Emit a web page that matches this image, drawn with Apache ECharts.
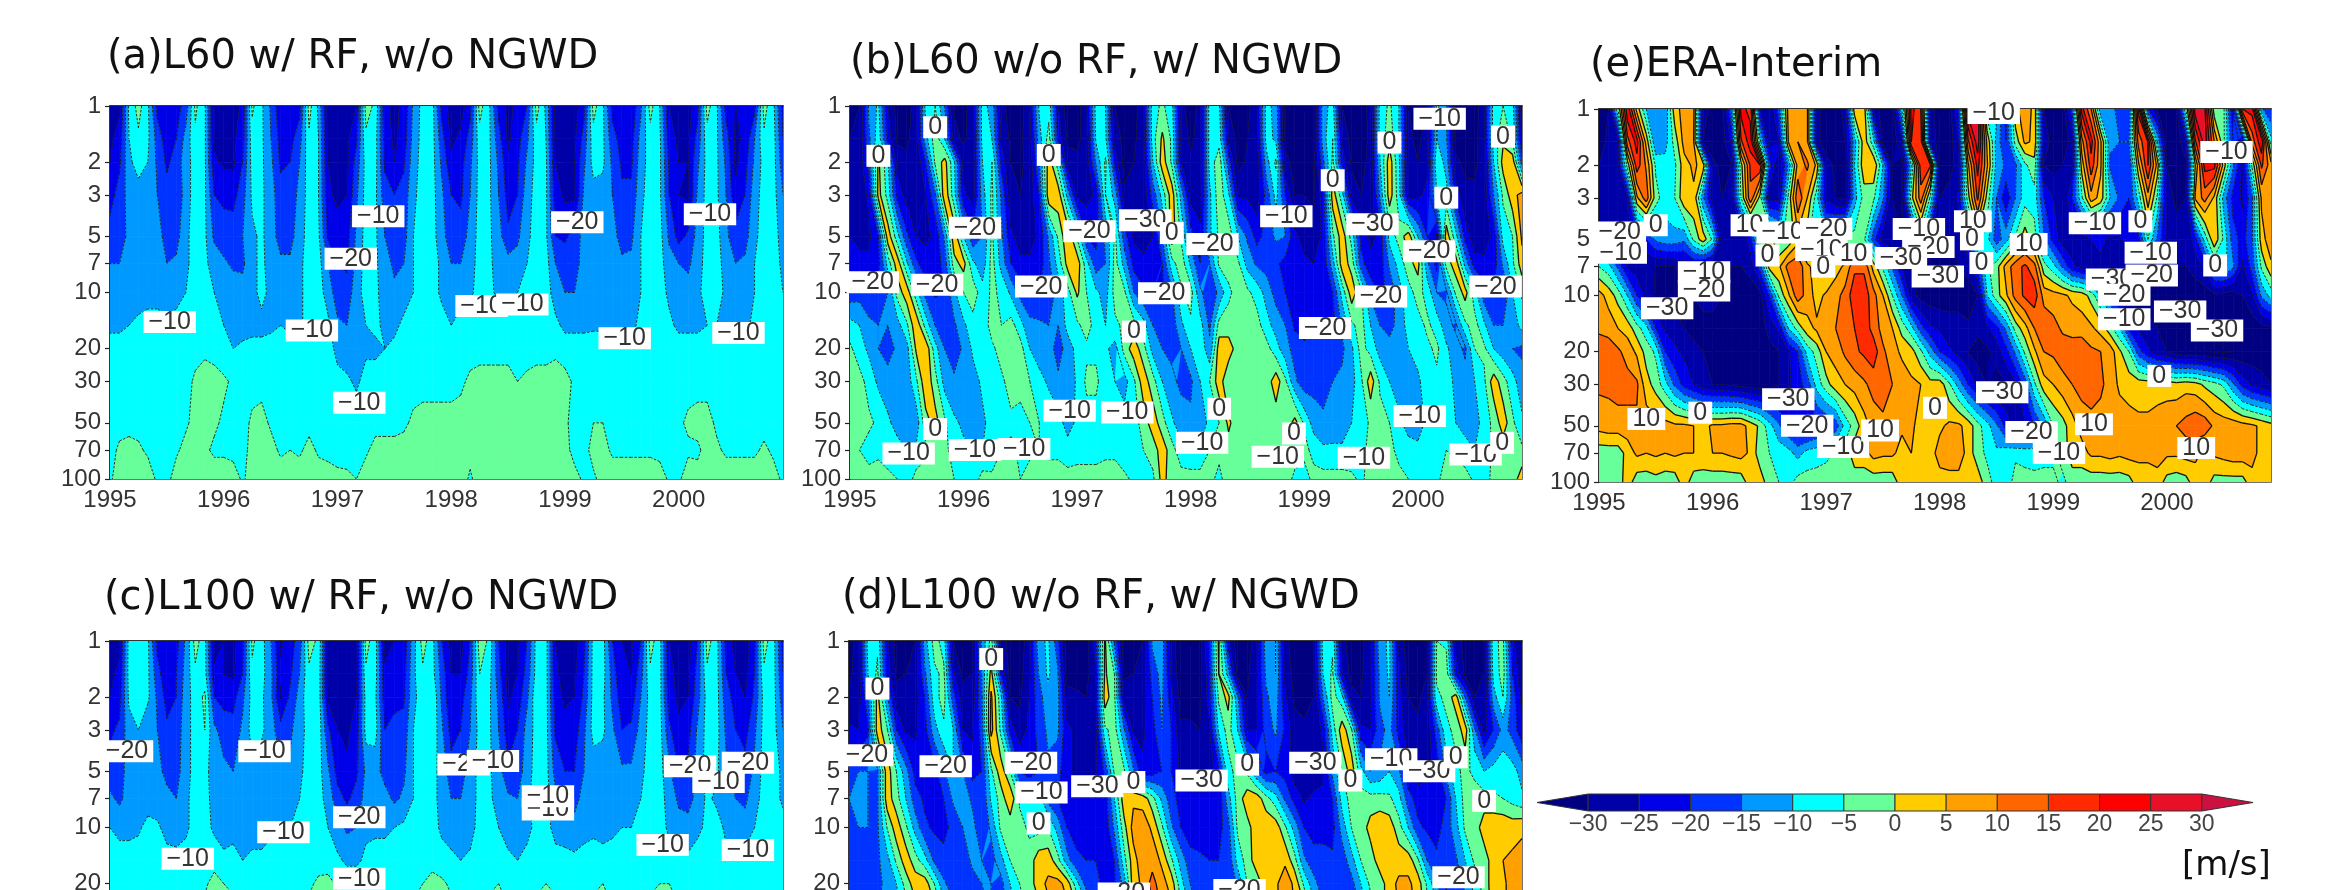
<!DOCTYPE html>
<html><head><meta charset="utf-8">
<style>html,body{margin:0;padding:0;background:#fff;overflow:hidden}#c{width:2331px;height:890px}</style>
<script src="https://cdn.jsdelivr.net/npm/echarts@6/dist/echarts.min.js"></script></head>
<body><div id="c"></div>
<script>
const pressures=[1,1.5,2,3,5,7,10,15,20,30,50,70,100];
const yearTicks=[1995,1996,1997,1998,1999,2000];
const pressureTicks=[1,2,3,5,7,10,20,30,50,70,100];
const colorLevels=[-35,-30,-25,-20,-15,-10,-5,0,5,10,15,20,25,30,35];
const bandColors=['#000080','#0000a8','#0000e8','#0033ff','#0099ff','#00ffff','#66ff99','#ffcc00','#ffa000','#ff6600','#ff2a00','#ff0000','#e81028','#cc1040'];
const panelTitles=['(a)L60 w/ RF, w/o NGWD','(b)L60 w/o RF, w/ NGWD','(c)L100 w/ RF, w/o NGWD','(d)L100 w/o RF, w/ NGWD','(e)ERA-Interim'];

const panelA=[
[-27,-26,-9,-3,-9,-22,-24,-22,-18,-4,-9,-27, -27,-27,-24,-4,-9,-16,-24,-24,-22,-3,-11,-27, -27,-27,-25,-3,-6,-24,-26,-24,-14,-8,-8,-22, -27,-27,-22,-3,-9,-22,-26,-24,-20,-3,-11,-27, -27,-27,-22,-3,-9,-22,-24,-24,-16,-3,-10,-25, -27,-27,-22,-3,-9,-22,-25,-25,-22,-3,-9,-22],
[-26,-23,-10,-6,-9,-17,-23,-20,-13,-6,-9,-26, -26,-26,-22,-7,-9,-15,-22,-22,-17,-6,-10,-26, -26,-26,-21,-6,-8,-22,-26,-23,-13,-8,-8,-18, -26,-24,-18,-7,-9,-18,-26,-22,-16,-7,-10,-26, -26,-26,-18,-7,-9,-18,-22,-22,-13,-7,-9,-23, -26,-26,-18,-7,-9,-18,-26,-24,-15,-6,-8,-20],
[-25,-21,-11,-8,-10,-16,-21,-18,-12,-8,-9,-24, -26,-26,-20,-8,-9,-14,-21,-20,-15,-7,-10,-25, -27,-26,-18,-8,-8,-21,-25,-21,-12,-8,-8,-16, -24,-22,-16,-8,-9,-16,-24,-21,-14,-8,-9,-25, -26,-25,-16,-8,-9,-16,-21,-21,-12,-8,-9,-21, -25,-25,-16,-8,-9,-16,-26,-22,-14,-8,-8,-18],
[-22,-18,-13,-12,-13,-15,-18,-20,-12,-8,-9,-20, -21,-22,-17,-9,-9,-13,-18,-19,-13,-8,-10,-24, -26,-25,-16,-8,-9,-18,-20,-18,-11,-8,-8,-14, -20,-21,-15,-8,-9,-15,-22,-20,-12,-8,-9,-23, -26,-26,-14,-12,-12,-15,-19,-19,-11,-8,-9,-20, -25,-26,-14,-8,-9,-15,-24,-20,-12,-8,-8,-15],
[-18,-17,-14,-15,-13,-13,-17,-17,-11,-8,-9,-16, -18,-17,-15,-11,-9,-13,-17,-17,-12,-8,-9,-21, -23,-22,-14,-8,-9,-15,-18,-17,-10,-8,-8,-13, -18,-18,-13,-8,-9,-13,-19,-16,-11,-8,-9,-20, -21,-18,-13,-12,-12,-13,-17,-16,-10,-8,-8,-16, -22,-19,-13,-8,-8,-14,-18,-17,-11,-8,-8,-12],
[-15,-15,-13,-14,-12,-12,-15,-14,-11,-8,-9,-12, -14,-16,-16,-11,-9,-12,-14,-14,-11,-8,-8,-15, -20,-21,-13,-8,-9,-13,-16,-15,-10,-8,-8,-11, -15,-15,-12,-8,-9,-12,-13,-13,-10,-8,-8,-15, -17,-18,-12,-11,-11,-12,-14,-14,-10,-8,-8,-13, -15,-16,-12,-8,-8,-12,-15,-14,-10,-8,-8,-11],
[-13,-13,-12,-12,-11,-11,-12,-12,-10,-8,-8,-10, -11,-12,-13,-11,-9,-11,-12,-12,-11,-8,-8,-12, -18,-18,-12,-8,-9,-12,-14,-12,-10,-8,-8,-11, -13,-13,-11,-8,-9,-11,-11,-10,-8,-8,-8,-12, -15,-15,-12,-11,-11,-11,-11,-11,-10,-8,-8,-11, -13,-13,-11,-8,-8,-11,-12,-12,-10,-8,-8,-10],
[-11,-11,-10,-9,-9,-9,-9,-8,-7,-7,-7,-9, -10,-11,-12,-11,-11,-11,-10,-11,-11,-8,-8,-9, -14,-15,-12,-10,-9,-11,-11,-9,-8,-8,-8,-8, -10,-7,-7,-7,-7,-7,-7,-7,-7,-7,-7,-9, -11,-11,-11,-11,-11,-11,-11,-11,-9,-8,-7,-9, -11,-11,-11,-10,-10,-11,-11,-11,-9,-8,-7,-7],
[-8,-8,-8,-8,-8,-7,-7,-7,-7,-7,-6,-7, -9,-10,-9,-9,-9,-8,-8,-8,-8,-7,-7,-7, -12,-13,-11,-11,-11,-10,-9,-7,-7,-7,-7,-7, -7,-7,-7,-7,-7,-7,-7,-7,-7,-7,-7,-6, -8,-8,-8,-7,-7,-7,-7,-7,-7,-7,-7,-7, -8,-8,-8,-7,-7,-8,-8,-7,-7,-7,-7,-7],
[-5,-7,-7,-7,-7,-7,-7,-7,-7,-4,-3,-3, -4,-6,-7,-7,-7,-7,-7,-7,-7,-7,-7,-7, -8,-9,-11,-8,-8,-8,-7,-7,-7,-7,-7,-7, -7,-6,-4,-3,-3,-3,-3,-5,-4,-3,-3,-3, -3,-6,-7,-7,-7,-7,-7,-7,-7,-7,-7,-7, -7,-7,-7,-7,-7,-7,-7,-7,-7,-7,-7,-7],
[-7,-7,-7,-7,-7,-7,-7,-7,-6,-3,-3,-4, -6,-7,-7,-4,-3,-6,-7,-7,-7,-7,-7,-7, -7,-7,-7,-7,-7,-7,-7,-6,-4,-3,-3,-3, -3,-3,-3,-3,-3,-3,-3,-3,-3,-3,-3,-3, -4,-7,-7,-5,-5,-7,-7,-7,-7,-7,-7,-7, -6,-4,-3,-3,-6,-7,-7,-7,-7,-7,-7,-7],
[-7,-4,-3,-4,-6,-7,-7,-6,-3,-3,-4,-6, -6,-7,-7,-3,-3,-3,-6,-5,-6,-3,-6,-7, -8,-7,-6,-6,-3,-3,-3,-3,-3,-3,-3,-3, -3,-3,-3,-3,-3,-3,-3,-3,-3,-3,-3,-3, -3,-7,-7,-3,-3,-6,-6,-6,-6,-6,-7,-7, -7,-6,-6,-3,-4,-6,-6,-6,-6,-4,-6,-7],
[-6,-2,-2,-2,-2,-6,-7,-2,-2,-2,-2,-2, -2,-2,-6,-2,-2,-2,-2,-2,-2,-2,-2,-2, -3,-4,-5,-2,-2,-2,-2,-2,-3,-2,-2,-2, -2,-2,-6,-2,-2,-2,-2,-2,-2,-2,-2,-2, -2,-3,-6,-6,-3,-2,-2,-2,-2,-2,-2,-6, -6,-2,-3,-2,-2,-2,-2,-2,-2,-2,-3,-6]
];
const panelB=[
[-32,-30,-14,-9,-25,-32,-32,-28,-8,-5,-15,-31, -33,-25,-8,-12,-28,-33,-33,-25,-9,-7,-25,-33, -33,-25,-8,-10,-30,-33,-33,-25,-7,-4,-8,-28, -33,-28,-8,-9,-30,-33,-32,-25,-8,-12,-32,-33, -33,-30,-12,-8,-30,-33,-33,-28,-8,-4,-10,-30, -33,-30,-9,-14,-32,-33,-33,-25,-8,-5,-8,-28],
[-30,-29,-16,-7,-22,-31,-31,-27,-12,-2,-10,-28, -31,-27,-8,-10,-26,-31,-31,-27,-12,-3,-22,-31, -31,-28,-9,-9,-27,-32,-31,-27,-7,1,-6,-27, -31,-28,-8,-7,-26,-32,-30,-26,-8,-11,-31,-32, -32,-30,-12,-5,-26,-32,-32,-29,-8,-2,-10,-29, -31,-28,-10,-14,-32,-33,-32,-26,-8,-1,-6,-26],
[-29,-28,-18,1,-9,-27,-29,-29,-20,-4,2,-9, -27,-27,-10,-5,-22,-30,-31,-28,-15,3,-8,-28, -29,-28,-14,-4,-22,-32,-30,-28,-10,3,-6,-25, -29,-28,-8,-2,-18,-32,-29,-28,-12,-4,-29,-31, -31,-31,-16,-4,-22,-31,-31,-29,-10,3,-9,-28, -30,-27,-6,-12,-29,-31,-31,-28,-10,2,3,-18],
[-28,-28,-24,2,-7,-22,-27,-28,-25,-16,4,-8, -24,-27,-12,-4,-16,-29,-30,-28,-20,4,3,-12, -26,-27,-24,-5,-12,-29,-29,-28,-18,-8,3,-12, -27,-27,-11,-2,-9,-26,-26,-28,-18,-8,-20,-30, -30,-31,-22,3,-8,-27,-30,-29,-14,3,-8,-27, -27,-23,-10,-8,-22,-29,-29,-28,-15,-4,3,7],
[-25,-26,-26,-20,3,-8,-19,-25,-26,-24,-14,4, -10,-19,-15,-4,-14,-24,-27,-27,-24,-14,-4,4, -6,-20,-22,-14,-4,-18,-26,-27,-25,-15,3,-6, -18,-24,-11,-4,-2,-10,-16,-22,-18,-14,-15,-24, -27,-28,-24,-6,3,-7,-22,-26,-24,-8,-3,3, -10,-20,-26,3,-8,-22,-28,-27,-24,-8,-5,6],
[-23,-24,-24,-22,-8,3,-9,-19,-23,-23,-18,-2, 2,-9,-13,-3,-12,-20,-24,-24,-23,-16,-8,2, 3,-8,-18,-15,-3,-12,-22,-24,-24,-20,-7,-2, -11,-20,-15,-4,-3,-4,-12,-16,-17,-19,-22,-24, -24,-25,-24,-12,3,-2,-18,-24,-23,-14,-8,-2, 2,-14,-22,-3,3,-12,-23,-24,-23,-14,-6,3],
[-18,-17,-18,-18,-15,-3,3,-8,-17,-21,-20,-11, -5,-2,-8,-4,-6,-11,-17,-18,-20,-18,-13,-7, 1,-5,-9,-12,-3,-4,-15,-19,-20,-21,-16,-6, -3,-14,-18,-14,-6,-3,-4,-7,-12,-17,-20,-22, -24,-24,-24,-20,-8,3,-4,-16,-21,-19,-12,-7, -3,-7,-15,-16,-4,2,-8,-18,-19,-20,-10,-4],
[-8,-10,-14,-15,-15,-12,-6,4,-7,-15,-19,-16, -11,-7,-8,-3,-5,-3,-8,-14,-14,-15,-15,-8, -6,-3,-7,-10,-6,-4,-3,-8,-15,-17,-18,-11, -6,-8,-16,-3,-3,-4,-3,-3,-8,-12,-15,-21, -22,-20,-21,-22,-14,-6,-3,-10,-15,-17,-13,-8, -7,-4,-7,-13,-16,-6,-3,-9,-15,-15,-13,-8],
[-4,-8,-11,-15,-17,-14,-12,1,4,-8,-15,-18, -14,-9,-8,-6,-3,-2,-3,-10,-13,-13,-17,-13, -8,-6,-6,-9,-12,-3,3,-3,-12,-15,-16,-15, -10,-6,-14,3,3,-3,-3,-3,-3,-8,-13,-17, -19,-19,-18,-18,-16,-11,-3,-7,-12,-13,-14,-10, -8,-6,-4,-9,-13,-16,-5,-4,-10,-13,-15,-16],
[-3,-3,-7,-11,-13,-14,-13,-6,4,-3,-12,-14, -15,-12,-9,-9,-6,-3,-4,-5,-8,-11,-14,-14, -9,-4,-4,-8,-10,-12,-6,3,-3,-10,-14,-16, -16,-10,-5,3,-5,-3,-3,-3,-3,3,-4,-14, -18,-17,-17,-15,-14,-12,-6,3,-6,-10,-12,-12, -11,-7,-6,-8,-11,-13,-10,-6,3,-3,-8,-13],
[-3,-3,-4,-6,-9,-12,-13,-13,-2,2,-4,-9, -11,-12,-11,-8,-8,-6,-6,-5,-5,-6,-8,-12, -9,-7,-7,-8,-9,-8,-7,-3,3,-3,-9,-13, -14,-14,-8,-5,1,-3,-3,-3,-3,-3,-4,2, -6,-12,-14,-13,-13,-10,-8,-4,-3,-5,-9,-12, -12,-9,-7,-8,-10,-12,-13,-7,-4,3,-4,-9],
[-3,-5,-7,-6,-7,-8,-10,-9,-6,-3,-3,-8, -9,-10,-10,-8,-5,-4,-6,-6,-5,-6,-6,-8, -7,-7,-7,-6,-6,-8,-7,-5,-3,3,-3,-8, -9,-9,-5,-4,-2,-3,-3,-3,-3,-3,-3,-3, -3,-7,-9,-9,-9,-8,-6,-4,-3,-4,-6,-8, -9,-8,-6,-5,-6,-8,-10,-8,-4,-3,-3,-4],
[-4,-3,-3,-3,-4,-5,-8,-3,-3,-3,-3,-5, -6,-8,-3,-4,-4,-5,-5,-3,-3,-3,-3,-3, -3,-3,-3,-3,-3,-4,-6,-8,-6,2,-3,-3, -3,-3,-4,-6,-3,-3,-3,-3,-3,-3,-3,-6, -8,-3,-3,-3,-3,-4,-6,-3,-3,-3,-4,-5, -6,-8,-6,-3,-3,-3,-6,-8,-3,-3,-3,3]
];
const panelC=[
[-27,-26,-8,-8,-9,-22,-25,-22,-14,-3,-8,-27, -25,-26,-22,-4,-8,-15,-26,-22,-18,-3,-6,-27, -28,-28,-27,-3,-8,-27,-25,-24,-12,-3,-8,-20, -27,-27,-20,-2,-6,-20,-27,-26,-20,-8,-8,-25, -27,-27,-22,-8,-8,-20,-25,-26,-20,-3,-8,-25, -27,-27,-20,-3,-8,-22,-27,-27,-22,-3,-8,-22],
[-26,-24,-8,-8,-9,-18,-24,-20,-13,-6,-8,-24, -25,-26,-20,-6,-8,-14,-24,-21,-15,-6,-7,-27, -27,-27,-26,-6,-8,-24,-22,-22,-11,-6,-8,-17, -25,-25,-18,-5,-8,-18,-27,-25,-18,-8,-8,-24, -27,-26,-20,-8,-8,-17,-25,-25,-17,-6,-8,-24, -26,-26,-18,-6,-8,-20,-25,-27,-20,-6,-8,-20],
[-25,-22,-9,-8,-9,-16,-22,-20,-12,-8,-4,-20, -22,-22,-16,-8,-9,-14,-26,-19,-13,-6,-7,-26, -26,-27,-25,-8,-9,-23,-21,-21,-11,-8,-5,-16, -25,-22,-16,-6,-9,-16,-26,-23,-16,-6,-8,-23, -26,-25,-19,-8,-9,-16,-23,-23,-15,-8,-8,-23, -26,-25,-17,-8,-8,-18,-22,-25,-19,-8,-8,-18],
[-21,-19,-12,-10,-14,-15,-19,-18,-12,-8,-5,-14, -17,-18,-14,-8,-9,-13,-18,-16,-12,-8,-7,-19, -25,-26,-23,-8,-8,-20,-19,-18,-10,-8,-6,-14, -22,-20,-15,-8,-9,-15,-23,-20,-13,-8,-8,-21, -23,-23,-16,-8,-9,-14,-20,-19,-13,-8,-8,-19, -24,-22,-14,-8,-8,-16,-20,-22,-16,-8,-8,-15],
[-18,-17,-13,-13,-14,-14,-16,-17,-12,-8,-8,-13, -14,-15,-13,-11,-13,-13,-14,-14,-11,-8,-8,-14, -22,-24,-21,-14,-13,-17,-17,-16,-10,-8,-8,-12, -18,-17,-13,-8,-9,-13,-19,-18,-12,-8,-8,-17, -20,-20,-15,-13,-13,-13,-14,-14,-11,-8,-8,-14, -20,-19,-13,-8,-9,-14,-18,-18,-14,-8,-8,-11],
[-14,-16,-13,-12,-13,-13,-14,-15,-11,-8,-8,-12, -12,-13,-14,-12,-12,-12,-12,-12,-10,-8,-8,-12, -18,-21,-18,-13,-13,-13,-16,-14,-10,-8,-8,-12, -15,-15,-13,-8,-9,-12,-14,-15,-11,-8,-8,-14, -15,-17,-13,-13,-13,-13,-12,-12,-10,-8,-8,-12, -16,-17,-13,-9,-11,-14,-15,-16,-12,-8,-8,-11],
[-10,-12,-12,-11,-8,-9,-12,-13,-11,-8,-8,-11, -12,-12,-13,-12,-12,-11,-10,-10,-10,-8,-8,-10, -13,-16,-15,-11,-11,-11,-10,-9,-8,-8,-8,-11, -12,-12,-12,-8,-7,-10,-12,-13,-12,-8,-8,-12, -13,-13,-12,-11,-11,-11,-10,-10,-9,-8,-8,-11, -13,-13,-11,-9,-8,-11,-13,-13,-10,-8,-8,-8],
[-8,-7,-7,-7,-7,-7,-8,-8,-8,-7,-6,-7, -9,-8,-10,-9,-9,-8,-8,-7,-8,-7,-7,-8, -9,-11,-11,-9,-8,-8,-7,-7,-7,-6,-7,-8, -9,-10,-9,-8,-8,-8,-9,-10,-8,-7,-7,-8, -8,-9,-8,-8,-9,-8,-8,-8,-7,-7,-7,-8, -9,-9,-8,-7,-8,-9,-8,-8,-7,-7,-7,-7],
[-6,-7,-6,-6,-7,-7,-7,-7,-7,-7,-6,-3, -5,-6,-7,-7,-7,-6,-7,-7,-7,-6,-4,-3, -6,-7,-7,-7,-7,-7,-7,-7,-7,-5,-3,-4, -6,-7,-7,-7,-6,-5,-7,-7,-7,-6,-5,-6, -7,-7,-7,-6,-5,-7,-7,-7,-7,-6,-5,-5, -7,-7,-7,-7,-7,-7,-7,-7,-7,-7,-7,-7],
[-3,-4,-3,-3,-4,-3,-4,-3,-3,-3,-3,-3, -3,-3,-4,-3,-4,-3,-3,-3,-3,-3,-3,-3, -3,-4,-4,-3,-4,-3,-3,-3,-3,-3,-3,-3, -3,-4,-3,-3,-3,-3,-4,-3,-3,-3,-3,-3, -3,-4,-3,-3,-3,-4,-4,-3,-3,-3,-3,-3, -4,-4,-4,-3,-4,-4,-4,-3,-3,-4,-4,-4]
];
const panelD=[
[-32,-28,-8,-6,-24,-32,-32,-30,-12,-3,-7,-30, -33,-30,-14,-3,-26,-33,-33,-27,-12,-9,-18,-33, -33,-33,-22,1,-16,-33,-32,-30,-14,-12,-28,-33, -33,-32,-20,1,-24,-33,-32,-28,-12,-10,-28,-33, -33,-30,-8,-6,-28,-33,-32,-26,-12,-9,-26,-33, -33,-30,-5,-6,-27,-32,-33,-30,-6,-4,-24,-30],
[-31,-28,-10,-4,-22,-31,-30,-28,-16,-6,-4,-24, -31,-30,-15,2,-20,-32,-32,-26,-15,-9,-14,-32, -32,-32,-26,1,-5,-31,-30,-28,-18,-13,-26,-33, -33,-32,-22,0,-12,-32,-31,-26,-14,-10,-26,-32, -33,-30,-10,-4,-24,-32,-31,-26,-14,-9,-24,-32, -32,-30,-4,-2,-22,-31,-32,-30,-8,-3,-20,-29],
[-29,-28,-16,2,-14,-28,-29,-27,-20,-7,-3,-18, -28,-28,-16,6,-8,-30,-31,-25,-17,-12,-13,-28, -29,-30,-26,3,-4,-27,-29,-27,-20,-14,-23,-32, -32,-31,-23,-4,2,-14,-30,-26,-16,-12,-24,-31, -32,-30,-15,-3,-8,-28,-30,-26,-14,-10,-23,-30, -31,-28,-6,-4,3,-15,-30,-29,-12,-5,-17,-27],
[-24,-25,-21,3,-4,-20,-26,-26,-22,-12,-6,-10, -25,-26,-18,7,-6,-22,-28,-24,-18,-14,-14,-24, -26,-27,-27,-6,-3,-14,-26,-26,-22,-15,-20,-29, -29,-30,-26,-9,-3,-10,-25,-25,-18,-14,-21,-28, -29,-29,-24,-8,3,-4,-24,-25,-17,-13,-22,-28, -29,-28,-18,-6,-4,3,-14,-27,-20,-13,-17,-24],
[-18,-15,-15,-16,3,-5,-13,-22,-24,-22,-16,-10, -15,-22,-20,-6,3,-5,-20,-24,-20,-16,-18,-24, -26,-26,-26,-19,-4,-4,-14,-24,-23,-20,-20,-26, -28,-28,-28,-22,-7,-3,-6,-15,-22,-20,-22,-28, -30,-28,-26,-14,-5,3,-8,-15,-14,-10,-14,-24, -28,-27,-23,-14,-6,-4,-6,-10,-8,-7,-8,-12],
[-15,-13,-15,-16,3,-3,-10,-18,-21,-22,-20,-14, -12,-16,-20,-9,-3,4,-6,-8,-6,-17,-20,-23, -24,-24,-25,-23,-10,3,4,3,-3,-11,-18,-22, -24,-24,-24,-24,-12,-3,3,3,-3,-8,-16,-22, -26,-24,-24,-20,-8,-3,-3,-3,-3,-4,-8,-18, -22,-22,-24,-20,-10,-3,-3,-3,-4,-5,-7,-9],
[-18,-15,-15,-16,-5,3,-4,-12,-19,-21,-21,-19, -15,-13,-19,-14,-4,-3,-3,-6,-7,-5,-12,-20, -22,-22,-22,-24,-14,-2,7,8,4,-4,-14,-20, -23,-23,-22,-22,-17,-4,-2,3,4,3,-4,-12, -20,-22,-21,-22,-13,-5,-3,2,4,3,-3,-10, -19,-21,-22,-18,-12,-4,-3,3,4,4,3,4],
[-20,-18,-17,-16,-12,-4,3,-3,-8,-16,-19,-19, -18,-14,-15,-17,-12,-5,-3,-3,3,3,-3,-13, -19,-20,-20,-21,-20,-7,3,8,8,4,-4,-12, -18,-19,-20,-20,-19,-8,-3,3,4,4,4,-3, -14,-18,-19,-19,-18,-12,-5,-3,3,4,3,3, -4,-15,-19,-19,-16,-10,-4,-3,3,5,6,7],
[-20,-19,-18,-16,-14,-10,-3,3,3,-5,-14,-18, -20,-17,-15,-15,-17,-10,-5,-3,3,6,7,3, -8,-17,-19,-21,-21,-13,3,6,12,7,3,-8, -15,-19,-20,-20,-20,-14,-5,-3,3,4,8,4, -6,-13,-18,-19,-19,-17,-10,-4,-3,3,6,6, 3,-6,-14,-21,-18,-14,-8,-3,3,4,7,9],
[-18,-18,-17,-15,-14,-12,-8,-3,4,3,-6,-12, -17,-18,-16,-15,-16,-14,-8,-4,-3,3,7,7, 3,-5,-14,-18,-20,-18,-5,3,8,10,7,-3, -9,-16,-18,-20,-21,-18,-10,-4,3,4,7,5, 3,-6,-13,-17,-19,-18,-15,-8,-3,3,5,7, 4,-3,-8,-16,-20,-17,-12,-5,3,4,7,9]
];
const panelE=[
[-32,-30,-5,24,3,-10,-14,-14,3,7,6,-28, -32,-33,-15,22,18,-25,-30,-18,7,8,6,-28, -33,-33,-28,3,3,-26,-33,-33,-10,22,15,-28, -33,-33,-20,28,30,-8,-9,-22,4,7,4,-30, -33,-33,-18,22,10,-14,-14,-16,-20,22,-20,-30, -33,-33,-5,28,26,-3,-4,-26,20,22,-14,-20],
[-32,-29,-28,13,22,3,-15,-12,-3,7,5,-30, -32,-32,-24,14,23,-8,-28,-25,5,10,6,-28, -33,-33,-30,-12,3,-8,-32,-33,-26,20,18,-26, -33,-33,-25,14,28,4,-12,-20,-3,6,4,-26, -33,-33,-28,8,22,6,-14,-15,-15,12,20,-10, -33,-33,-26,14,28,10,-4,-20,-28,12,24,-8],
[-30,-28,-27,-3,18,9,-6,-8,-6,3,6,3, -29,-31,-30,-2,16,20,-18,-30,-14,7,11,4, -28,-31,-32,-10,4,5,-10,-30,-33,-10,18,16, -32,-32,-28,4,22,6,-12,-16,-16,-6,-2,-30, -32,-30,-28,2,18,6,-16,-16,-20,4,20,3, -30,-33,-31,0,22,22,3,-14,-27,-4,16,7],
[-28,-27,-26,-26,4,13,-3,-8,-5,4,4,-14, -28,-30,-28,-5,14,-2,-28,-26,-4,14,5,-8, -26,-30,-31,-12,-3,-4,-14,-30,-31,-2,13,-6, -30,-28,-24,-2,16,-2,-15,-24,-15,-7,-7,-20, -25,-30,-20,-6,8,3,-10,-16,-20,-8,8,-6, -28,-31,-30,6,12,4,-12,-22,-26,-16,6,6],
[-24,-24,-24,-26,-24,-20,-14,-12,-12,-14,-4,3, -6,-28,-28,-30,-22,-4,3,-6,-4,3,-3,-12, -10,-5,-3,-3,-4,-18,-28,-30,-30,-28,-10,-24, -30,-30,-30,-18,-2,-8,-18,-12,-4,3,-3,-14, -22,-28,-28,-28,-25,-24,-26,-26,-22,-22,-5,-16, -26,-28,-30,-22,-8,4,-6,-18,-22,-16,3,8],
[-5,-8,-16,-26,-28,-30,-30,-30,-30,-28,-26,-28, -30,-30,-30,-30,-28,-18,2,4,12,14,6,3, -3,3,6,14,14,3,-6,-16,-25,-30,-30,-32, -32,-32,-30,-28,-20,-6,-2,7,13,16,12,-3, -8,-16,-24,-27,-30,-26,-26,-28,-30,-26,-26,-28, -28,-30,-30,-28,-24,-10,-8,-14,-26,-18,-4,4],
[7,3,-2,-10,-20,-27,-31,-32,-32,-32,-30,-28, -28,-30,-32,-33,-33,-32,-20,-4,4,13,8,3, 6,8,12,18,18,12,5,-5,-15,-28,-32,-33, -33,-32,-32,-33,-30,-10,-2,4,12,16,18,8, 7,6,4,3,-2,-10,-20,-27,-32,-33,-33,-33, -32,-32,-31,-33,-33,-31,-32,-33,-30,-26,-14,-8],
[9,8,5,3,-3,-8,-20,-26,-27,-30,-32,-32, -32,-32,-33,-33,-33,-33,-28,-24,-10,-3,3,6, 8,10,12,15,18,13,8,5,-2,-8,-18,-24, -26,-28,-28,-29,-28,-26,-22,-14,-3,3,10,14, 12,9,8,7,6,3,-3,-10,-22,-26,-28,-30, -31,-32,-32,-33,-34,-33,-33,-32,-33,-33,-32,-31],
[13,13,11,8,4,-2,-6,-20,-24,-26,-28,-30, -31,-32,-33,-34,-34,-33,-32,-30,-26,-20,-8,-3, 5,7,11,14,16,18,11,7,4,2,-4,-12, -20,-24,-27,-30,-33,-31,-28,-22,-14,-4,4,10, 11,13,13,15,11,10,8,1,-5,-18,-24,-28, -30,-33,-34,-34,-34,-36,-36,-35,-34,-33,-33,-33],
[11,11,12,12,11,2,-2,-8,-16,-22,-25,-28, -30,-30,-31,-32,-33,-33,-32,-30,-26,-22,-18,-8, -2,3,5,7,9,12,14,10,8,6,5,2, 3,-4,-12,-20,-26,-30,-32,-30,-26,-18,-6,3, 5,8,10,12,13,11,8,4,3,3,3,3, 3,2,3,2,-1,-3,-6,-14,-22,-26,-28,-30],
[7,8,8,8,9,8,7,7,6,6,5,3, 6,6,7,7,3,-1,-8,-14,-20,-24,-25,-22, -20,-18,-8,-3,3,7,8,7,6,6,3,3, 4,6,6,3,-3,-8,-14,-22,-28,-26,-20,-14, -5,-2,3,7,8,8,8,8,7,6,6,7, 8,10,12,14,13,9,8,8,7,6,4,2],
[-3,-3,-3,2,6,5,6,5,6,5,5,4, 5,5,6,7,4,-3,-5,-7,-8,-12,-8,-7, -7,-4,-3,3,3,7,6,6,3,5,3,3, 7,8,8,3,-3,-6,-9,-7,-6,-7,-8,-7, -6,-3,3,3,6,6,7,6,7,6,6,7, 6,6,7,6,4,6,7,8,8,7,3,3],
[-3,-3,-3,3,-3,-3,-2,-3,-3,3,-3,-3, -3,-3,-3,-3,3,3,-3,-5,-7,-3,-3,-3, -1,-4,-3,-3,-3,-3,-3,-3,3,3,3,3, 3,3,3,3,3,-3,-7,-8,-3,-3,-3,-3, -4,-6,-3,-3,-3,-3,-3,-3,-2,3,3,3, -2,-3,-2,3,3,-2,-2,-2,-2,3,3,3]
];

const labelsA=[[28.3,3.9,'−10'],[25.4,6.6,'−20'],[6.3,14.4,'−10'],[21.3,16,'−10'],[49.3,4.2,'−20'],[63.3,3.8,'−10'],[39.2,11.8,'−10'],[43.5,11.6,'−10'],[54.3,17.6,'−10'],[66.3,16.5,'−10'],[26.3,39,'−10']];
const labelsB=[[2.4,8.8,'−20'],[3,1.85,'0'],[9,1.3,'0'],[13.2,4.5,'−20'],[9.2,9.1,'−20'],[21,1.83,'0'],[25.3,4.7,'−20'],[20.2,9.3,'−20'],[31.2,4.1,'−30'],[34,4.8,'0'],[38.3,5.5,'−20'],[46.1,3.9,'−10'],[33.2,10.1,'−20'],[30,16.2,'0'],[50.2,15.5,'−20'],[55.2,4.3,'−30'],[51,2.5,'0'],[57,1.57,'0'],[62.3,1.17,'−10'],[63,3.1,'0'],[69,1.46,'0'],[61.2,6,'−20'],[56.1,10.5,'−20'],[68.2,9.3,'−20'],[23.2,43,'−10'],[29.3,44,'−10'],[39,42,'0'],[37.2,64,'−10'],[46.9,57,'0'],[45.2,76,'−10'],[54.3,77,'−10'],[60.2,46,'−10'],[66.1,74,'−10'],[68.9,64,'0'],[9,54,'0'],[6.2,73,'−10'],[13.2,70,'−10'],[18.4,69,'−10']];
const labelsC=[[1.8,3.9,'−20'],[16.3,3.9,'−10'],[18.3,10.6,'−10'],[26.3,8.8,'−20'],[8.2,14.7,'−10'],[26.3,18.8,'−10'],[37.3,4.6,'−20'],[40.4,4.4,'−10'],[46.2,8,'−10'],[46.2,6.8,'−10'],[58.3,12.4,'−10'],[61.2,4.7,'−20'],[67.3,4.5,'−20'],[64.2,5.7,'−10'],[67.3,13.2,'−10']];
const labelsD=[[1.9,4.1,'−20'],[3,1.8,'0'],[15,1.25,'0'],[10.2,4.7,'−20'],[19.2,4.5,'−20'],[20.3,6.5,'−10'],[20,9.5,'0'],[26.2,6,'−30'],[30,5.7,'0'],[37.2,5.6,'−30'],[42,4.6,'0'],[49.2,4.5,'−30'],[52.9,5.6,'0'],[57.2,4.3,'−10'],[61.2,5,'−30'],[64,4.2,'0'],[67,7.2,'0'],[64.3,18.5,'−20'],[29,22.6,'−20'],[41.2,21.6,'−20']];
const labelsE=[[2.2,4.6,'−20'],[6,4.2,'0'],[2.3,5.9,'−10'],[11.1,7.5,'−10'],[11.1,9.4,'−20'],[7.2,11.7,'−30'],[15.9,4.2,'10'],[19.4,4.6,'−10'],[24,4.4,'−20'],[17.8,6.1,'0'],[23.5,5.7,'−10'],[26.9,6,'10'],[23.7,7,'0'],[33.8,4.4,'−10'],[34.8,5.5,'−20'],[31.9,6.3,'−30'],[35.8,7.9,'−30'],[39.5,4,'10'],[39.4,5,'0'],[40.4,6.7,'0'],[41.7,1.05,'−10'],[52.4,4.1,'−10'],[57.2,4,'0'],[45.4,5.3,'10'],[54.2,8.2,'−30'],[58.3,5.9,'−10'],[58.4,7.8,'−20'],[55.5,9.9,'−20'],[55.5,13.4,'−10'],[61.4,12.2,'−30'],[65.3,15.4,'−30'],[65.1,6.9,'0'],[66.3,1.7,'−10'],[59.2,27,'0'],[63.1,65.7,'10'],[52.3,49,'10'],[45.7,54,'−20'],[48.6,70,'−10'],[42.6,33,'−30'],[20,36,'−30'],[22,50,'−20'],[25.8,65,'−10'],[29.7,53,'10'],[35.5,40,'0'],[5,46,'10'],[10.7,42.5,'0']];

const toYear=m=>1995+m/12, lastYear=toYear(71);
const LOG=Math.log10;
const bandLo=colorLevels.slice(0,-1);
function bandOf(v){let k=0;for(let i=1;i<bandLo.length;i++){if(v>=bandLo[i])k=i;}return k;}
function clip(poly,level,keepAbove){
  const out=[];
  for(let i=0;i<poly.length;i++){
    const a=poly[i],b=poly[(i+1)%poly.length];
    const ina=keepAbove?a[2]>=level:a[2]<=level, inb=keepAbove?b[2]>=level:b[2]<=level;
    if(ina)out.push(a);
    if(ina!==inb){const t=(level-a[2])/(b[2]-a[2]);out.push([a[0]+t*(b[0]-a[0]),a[1]+t*(b[1]-a[1]),level]);}
  }
  return out;
}
const lineLevels=[-40,-35,-30,-25,-20,-15,-10,-5,0,5,10,15,20,25,30];
function renderCell(params,api){
  const x0=api.value(0),y0=api.value(1),x1=api.value(2),y1=api.value(3);
  const vals=[api.value(4),api.value(5),api.value(6),api.value(7)];
  const c=[api.coord([x0,y0]),api.coord([x1,y0]),api.coord([x1,y1]),api.coord([x0,y1])];
  const quad=c.map((p,i)=>[p[0],p[1],vals[i]]);
  const kids=[];
  const bmin=bandOf(Math.min(...vals)),bmax=bandOf(Math.max(...vals));
  for(let b=bmin;b<=bmax;b++){
    let poly=quad;
    if(b>bmin)poly=clip(poly,bandLo[b],true);
    if(b<bmax&&poly.length)poly=clip(poly,bandLo[b+1],false);
    if(poly.length>2)kids.push({type:'polygon',silent:true,shape:{points:poly.map(p=>[p[0],p[1]])},style:{fill:bandColors[b],stroke:bandColors[b],lineWidth:0.7}});
  }
  for(const L of lineLevels){
    const pts=[];
    for(let i=0;i<4;i++){
      const a=quad[i],b=quad[(i+1)%4];
      if((a[2]<L)!==(b[2]<L)){const t=(L-a[2])/(b[2]-a[2]);pts.push([a[0]+t*(b[0]-a[0]),a[1]+t*(b[1]-a[1])]);}
    }
    for(let i=0;i+1<pts.length;i+=2){
      kids.push({type:'line',silent:true,z2:5,shape:{x1:pts[i][0],y1:pts[i][1],x2:pts[i+1][0],y2:pts[i+1][1]},
        style:L<0?{stroke:'#1a1a1a',lineWidth:0.9,lineDash:[2.5,1.5]}:{stroke:'#111',lineWidth:1.3}});
    }
  }
  return {type:'group',children:kids};
}
function cellsOf(rows){
  const out=[];
  for(let j=0;j+1<rows.length;j++){
    for(let i=0;i+1<72;i++){
      out.push([toYear(i),LOG(pressures[j]),toYear(i+1),LOG(pressures[j+1]),rows[j][i],rows[j][i+1],rows[j+1][i+1],rows[j+1][i]]);
    }
  }
  return out;
}
const panels=[
 {rows:panelA,labels:labelsA,left:110,top:106,width:673,height:373},
 {rows:panelB,labels:labelsB,left:850,top:106,width:672,height:373},
 {rows:panelC,labels:labelsC,left:110,top:641,width:673,height:373},
 {rows:panelD,labels:labelsD,left:849,top:641,width:673,height:373},
 {rows:panelE,labels:labelsE,left:1599,top:109,width:672,height:373}
];
const titleSpots=[[107,38],[850,43],[104,579],[842,578],[1590,46]];
const font='"Liberation Sans Narrow","Liberation Sans",Arial,sans-serif';
const grid=[],xAxis=[],yAxis=[],series=[];
panels.forEach((p,k)=>{
  grid.push({left:p.left,top:p.top,width:p.width,height:p.height,outerBoundsMode:'none',containLabel:false,show:true,backgroundColor:'transparent',borderColor:'#444',borderWidth:1.5});
  xAxis.push({gridIndex:k,type:'value',min:1995,max:lastYear,splitLine:{show:false},
    axisLine:{lineStyle:{color:'#222',width:1.5}},axisTick:{length:5,lineStyle:{color:'#222',width:1.2},customValues:yearTicks},
    axisLabel:{customValues:yearTicks,fontFamily:font,fontSize:24,color:'#333',margin:9,formatter:v=>String(Math.round(v))}});
  const yT=pressureTicks.map(LOG);
  yAxis.push({gridIndex:k,type:'value',inverse:true,min:0,max:2,splitLine:{show:false},
    axisLine:{lineStyle:{color:'#222',width:1.5}},axisTick:{length:5,lineStyle:{color:'#222',width:1.2},customValues:yT},
    axisLabel:{customValues:yT,fontFamily:font,fontSize:24,color:'#333',margin:9,formatter:v=>String(Math.round(Math.pow(10,v)))}});
  series.push({type:'custom',xAxisIndex:k,yAxisIndex:k,coordinateSystem:'cartesian2d',clip:true,silent:true,animation:false,
    renderItem:renderCell,dimensions:['x0','y0','x1','y1','a','b','c','d'],encode:{x:0,y:1},data:cellsOf(p.rows),z:2});
  series.push({type:'scatter',xAxisIndex:k,yAxisIndex:k,symbolSize:1,itemStyle:{color:'transparent',opacity:1},silent:true,animation:false,z:6,clip:true,
    data:p.labels.map(l=>({value:[toYear(l[0]),LOG(l[1])],name:l[2]})),
    label:{show:true,position:'inside',opacity:1,formatter:o=>o.name,fontFamily:font,fontSize:25,color:'#333',backgroundColor:'#fff',padding:[0,5],lineHeight:22}});
});
// colour bar
const cb=panels.length;
grid.push({left:1537,top:794,width:716,height:17,show:false,outerBoundsMode:'none'});
xAxis.push({gridIndex:cb,type:'value',min:-35,max:35,splitLine:{show:false},axisLine:{show:false},axisTick:{show:false},
  axisLabel:{customValues:colorLevels.slice(1,-1),fontFamily:font,fontSize:23,color:'#444',margin:2,formatter:v=>String(v).replace('-','−')}});
yAxis.push({gridIndex:cb,type:'value',min:0,max:1,show:false});
series.push({type:'custom',xAxisIndex:cb,yAxisIndex:cb,silent:true,animation:false,clip:false,
  renderItem(params,api){
    const lo=api.value(0),hi=api.value(1),i=api.value(2);
    const a=api.coord([lo,0]),b=api.coord([hi,1]);
    const mid=(a[1]+b[1])/2;
    const pts=i===0?[[a[0],mid],[b[0],b[1]],[b[0],a[1]]]:
      i===bandColors.length-1?[[a[0],a[1]],[a[0],b[1]],[b[0],mid]]:
      [[a[0],a[1]],[b[0],a[1]],[b[0],b[1]],[a[0],b[1]]];
    return {type:'polygon',shape:{points:pts},style:{fill:bandColors[i],stroke:'#333',lineWidth:1}};
  },
  encode:{x:0,y:2},data:bandColors.map((c,i)=>[colorLevels[i],colorLevels[i+1],i])});
const titles=panelTitles.map((t,i)=>({text:t,left:titleSpots[i][0],top:titleSpots[i][1],padding:0,
  textStyle:{fontFamily:'"DejaVu Sans",sans-serif',fontWeight:'normal',fontSize:40,color:'#111'}}));
titles.push({text:'[m/s]',left:2182,top:849,padding:0,textStyle:{fontFamily:'"DejaVu Sans",sans-serif',fontWeight:'normal',fontSize:34,color:'#111'}});
const chart=echarts.init(document.getElementById('c'),null,{renderer:'canvas'});
chart.setOption({animation:false,backgroundColor:'#fff',title:titles,grid,xAxis,yAxis,series});
</script></body></html>
